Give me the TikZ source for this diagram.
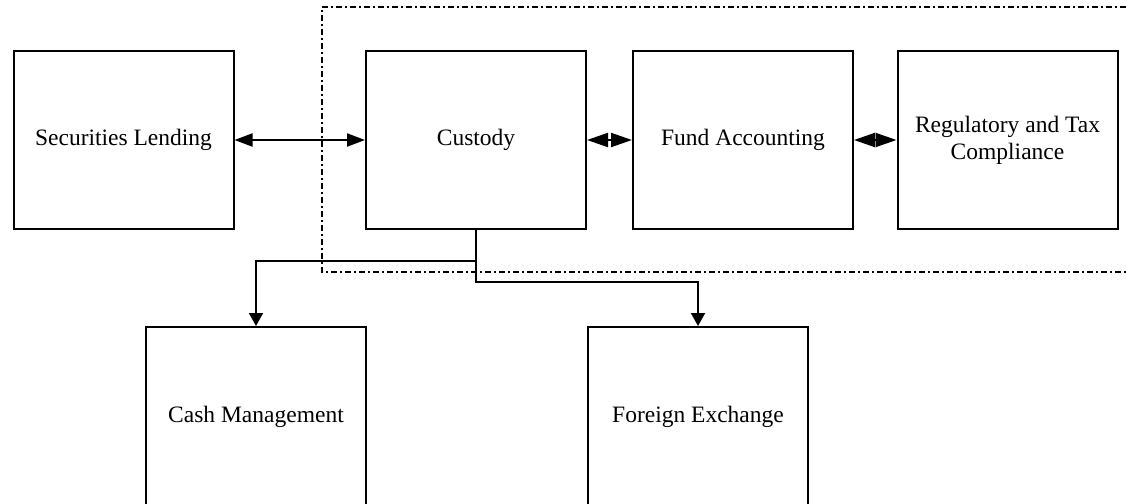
\documentclass[tikz,border=0pt]{standalone}
\usepackage{fontspec}
\setmainfont{Liberation Serif}
\usetikzlibrary{arrows.meta}
\begin{document}
\begin{tikzpicture}[x=1pt,y=-1pt,
  box/.style={draw,line width=2pt,minimum width=220pt,minimum height=178pt,inner sep=0pt,align=center,font=\fontsize{23.5}{27}\selectfont},
  lowbox/.style={box,minimum height=180pt},
  conn/.style={line width=2pt},
  bigtip/.style={{Triangle[length=18pt,width=13pt]}-{Triangle[length=18pt,width=13pt]}},
  midtip/.style={{Triangle[length=21pt,width=14pt]}-{Triangle[length=21pt,width=14pt]}},
  downtip/.style={-{Triangle[length=13pt,width=14pt]}},
  region/.style={line width=1.6pt,dash pattern=on 6pt off 3pt on 2pt off 3pt}]
\useasboundingbox (0,0) rectangle (1126,503);
\fill[white] (0,0) rectangle (1126,503);
% dashed region
\draw[region] (1140,7) -- (322,7) -- (322,272) -- (1140,272);
% boxes
\node[box] (sl) at (123.5,140) {Securities Lending};
\node[box] (cust) at (476,140) {Custody};
\node[box] (fa) at (743,140) {Fund Accounting};
\node[box] (reg) at (1007.5,140) {Regulatory and Tax\\Compliance};
\node[lowbox] (cash) at (256,417) {\raisebox{4pt}{Cash Management}};
\node[lowbox] (fx) at (698,417) {\raisebox{4pt}{Foreign Exchange}};
% connectors
\draw[conn,bigtip] (sl.east) -- (cust.west);
\draw[conn,midtip] (cust.east) -- (fa.west);
\draw[conn,midtip] (fa.east) -- (reg.west);
\coordinate (jl) at (476,261);
\coordinate (jr) at (476,282);
\draw[conn,downtip] (cust.south) -- (jr) -| (fx.north);
\draw[conn,downtip] (jl) -| (cash.north);
\end{tikzpicture}
\end{document}
